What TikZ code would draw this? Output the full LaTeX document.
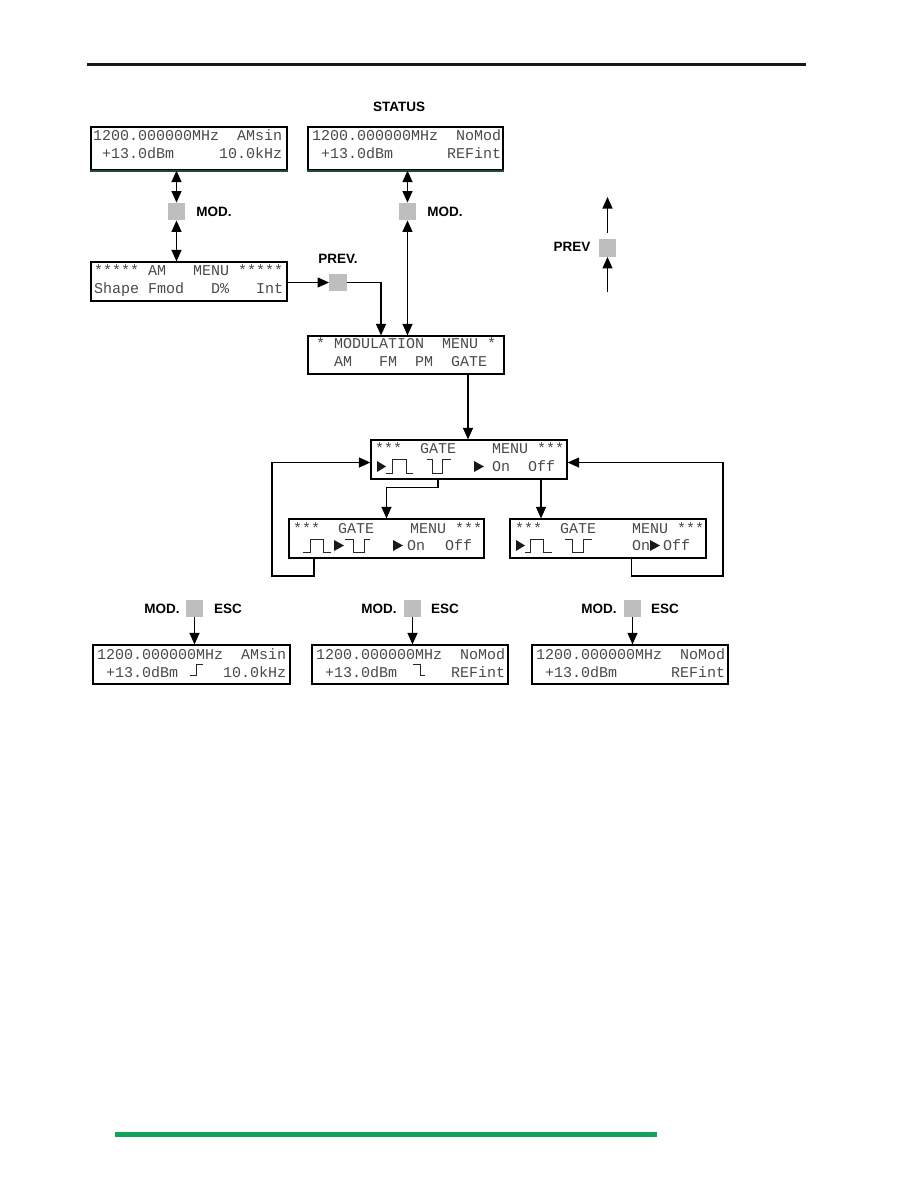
\documentclass[tikz,border=0pt]{standalone}
\usepackage{fontspec}
\usetikzlibrary{arrows.meta}
\newfontfamily\lcdfont{Liberation Mono}
\newfontfamily\lblfont{Liberation Sans}
\definecolor{lcdtext}{HTML}{4A4A4A}
\definecolor{rulegreen}{RGB}{18,163,90}
\definecolor{edgegreen}{RGB}{30,75,58}
\definecolor{keygray}{RGB}{190,190,190}
\begin{document}
\begin{tikzpicture}[x=1pt,y=-1pt,
  >={Triangle[length=11.5pt,width=10pt]},
  lcdbox/.style={draw=black,line width=1.2pt,minimum width=196pt,minimum height=39pt,inner sep=0pt},
  lcdtxt/.style={anchor=base west,inner sep=0pt,text=lcdtext,font=\lcdfont\fontsize{15}{15}\selectfont},
  keybox/.style={fill=keygray,minimum size=17.5pt,inner sep=0pt},
  lbl/.style={inner sep=0pt,font=\lblfont\bfseries\fontsize{13.5}{14}\selectfont},
  conn/.style={line width=1.2pt},
  wave/.style={line width=0.9pt,draw=black!85},
  tri/.style={fill=black!90}
]
\useasboundingbox (0,0) rectangle (918,1188);
% page rules
\draw[line width=3pt,black!90] (87,65) coordinate (rl) -- (806,65) coordinate (rr);
\draw[line width=5pt,rulegreen] (115,1134) coordinate (gl) -- (657,1134) coordinate (gr);

% boxes
\node[lcdbox,minimum height=43pt] (A) at (189,148.5) {};
\node[lcdbox,minimum height=43pt,minimum width=195pt] (B) at (405.5,148.5) {};
\draw[line width=1.8pt,edgegreen] (A.south west) -- (A.south east);
\draw[line width=1.8pt,edgegreen] (B.south west) -- (B.south east);
\node[lcdbox] (C) at (189,281.5) {};
\node[lcdbox,minimum height=38pt] (D) at (406,355) {};
\node[lcdbox] (E) at (469,459.5) {};
\node[lcdbox,minimum width=195pt] (F) at (386.5,538.5) {};
\node[lcdbox] (G) at (608,538.5) {};
\node[lcdbox,minimum width=197pt] (H) at (191.5,664.5) {};
\node[lcdbox] (I) at (410,664.5) {};
\node[lcdbox] (J) at (630,664.5) {};

% texts
\node[lcdtxt] (A1) at (93,141) {1200.000000MHz~~AMsin};
\node[lcdtxt] (A2) at (93,158.5) {~+13.0dBm~~~~~10.0kHz};
\node[lcdtxt] (B1) at (312,141) {1200.000000MHz~~NoMod};
\node[lcdtxt] (B2) at (312,158.5) {~+13.0dBm~~~~~~REFint};
\node[lcdtxt] (C1) at (94,275) {*****~AM~~~MENU~*****};
\node[lcdtxt] (C2) at (94,293) {Shape~Fmod~~~D\%~~~Int};
\node[lcdtxt] (D1) at (316,348) {*~MODULATION~~MENU~*};
\node[lcdtxt] (D2) at (316,366.5) {~~AM~~~FM~~PM~~GATE};
\node[lcdtxt] (E1) at (375,453.5) {***~~GATE~~~~MENU~***};
\node[lcdtxt] (E2) at (492,471) {On};
\node[lcdtxt] (E3) at (528,471) {Off};
\node[lcdtxt] (F1) at (293,533) {***~~GATE~~~~MENU~***};
\node[lcdtxt] (F2) at (407,550) {On};
\node[lcdtxt] (F3) at (445,550) {Off};
\node[lcdtxt] (G1) at (515,533) {***~~GATE~~~~MENU~***};
\node[lcdtxt] (G2) at (632,550) {On};
\node[lcdtxt] (G3) at (663,550) {Off};
\node[lcdtxt] (H1) at (97,659) {1200.000000MHz~~AMsin};
\node[lcdtxt] (H2) at (97,677.5) {~+13.0dBm~~~~~10.0kHz};
\node[lcdtxt] (I1) at (316,659) {1200.000000MHz~~NoMod};
\node[lcdtxt] (I2) at (316,677.5) {~+13.0dBm~~~~~~REFint};
\node[lcdtxt] (J1) at (536,659) {1200.000000MHz~~NoMod};
\node[lcdtxt] (J2) at (536,677.5) {~+13.0dBm~~~~~~REFint};

% gate symbols: E
\fill[tri] (377,461) -- (386,466.5) -- (377,472) -- cycle;
\draw[wave] (386,473) -- (392,473) -- (392,459) -- (406,459) -- (406,473) -- (413,473);
\draw[wave] (427,459) -- (432,459) -- (432,473) -- (442,473) -- (442,459) -- (451,459);
\fill[tri] (474,461) -- (484,466.5) -- (474,472) -- cycle;
% F
\draw[wave] (303,552) -- (310,552) -- (310,539) -- (323,539) -- (323,552) -- (331,552);
\fill[tri] (334,540) -- (344,545.5) -- (334,551) -- cycle;
\draw[wave] (345,539) -- (353,539) -- (353,552) -- (364,552) -- (364,539) -- (370,539);
\fill[tri] (393,540) -- (403,545.5) -- (393,551) -- cycle;
% G
\fill[tri] (516,540) -- (525,545.5) -- (516,551) -- cycle;
\draw[wave] (525,552) -- (530,552) -- (530,539) -- (543,539) -- (543,552) -- (552,552);
\draw[wave] (565,539) -- (572,539) -- (572,552) -- (583,552) -- (583,539) -- (592,539);
\fill[tri] (650,540) -- (660,545.5) -- (650,551) -- cycle;
% steps in bottom boxes
\draw[wave] (190,675) -- (196,675) -- (196,664) -- (203,664);
\draw[wave] (413,664) -- (420,664) -- (420,675) -- (425,675);

% keys
\node[keybox] (k1) at (176.5,211.5) {};
\node[keybox] (k2) at (407.5,211.5) {};
\node[keybox] (kp) at (338,282.5) {};
\node[keybox] (kq) at (607.5,248) {};
\node[keybox] (kh) at (194.5,608.5) {};
\node[keybox] (ki) at (412.5,608.5) {};
\node[keybox] (kj) at (632.5,608.5) {};

% labels
\node[lbl] (status) at (399,107) {STATUS};
\node[lbl] (m1) at (214,212) {MOD.};
\node[lbl] (m2) at (445,212) {MOD.};
\node[lbl] (pv) at (338,259) {PREV.};
\node[lbl] (pq) at (572,247) {PREV};
\node[lbl] (mh) at (162,609) {MOD.};
\node[lbl] (eh) at (228,609) {ESC};
\node[lbl] (mi) at (379,609) {MOD.};
\node[lbl] (ei) at (445,609) {ESC};
\node[lbl] (mj) at (599,609) {MOD.};
\node[lbl] (ej) at (665,609) {ESC};

% connectors
\draw[conn,<->] (k1.north |- A.south) -- (k1.north);
\draw[conn,<->] (k1.south) -- (k1.south |- C.north);
\draw[conn,<->] (k2.north |- B.south) -- (k2.north);
\draw[conn,<->] (k2.south) -- (k2.south |- D.north);
\draw[conn,->] (C.east |- kp) -- (kp.west);
\draw[conn,->] (kp.east) -| ([xshift=-25pt]D.north);
\draw[conn,->] ([xshift=62pt]D.south) -- ([xshift=62pt]D.north |- E.north);
\draw[conn,->] ([xshift=-31pt]E.south) -- ++(0,7.5) -| (F.north);
\draw[conn,->] ([xshift=72pt]E.south) -- ([xshift=72pt]E.south |- G.north);
\coordinate (lf) at (272,576);
\coordinate (rt) at (723,576);
\draw[conn,->] ([xshift=-72.5pt]F.south) |- (lf) |- ([yshift=-3pt]E.west);
\draw[conn,->] ([xshift=23.5pt]G.south) |- (rt) |- ([yshift=-3pt]E.east);
\coordinate (qu) at (607.5,233);
\coordinate (qt) at (607.5,197);
\coordinate (qb) at (607.5,292);
\draw[conn,->] (qu) -- (qt);
\draw[conn,->] (qb) -- (kq.south);
\draw[conn,->] (kh.south) -- (kh.south |- H.north);
\draw[conn,->] (ki.south) -- (ki.south |- I.north);
\draw[conn,->] (kj.south) -- (kj.south |- J.north);
\end{tikzpicture}
\end{document}
